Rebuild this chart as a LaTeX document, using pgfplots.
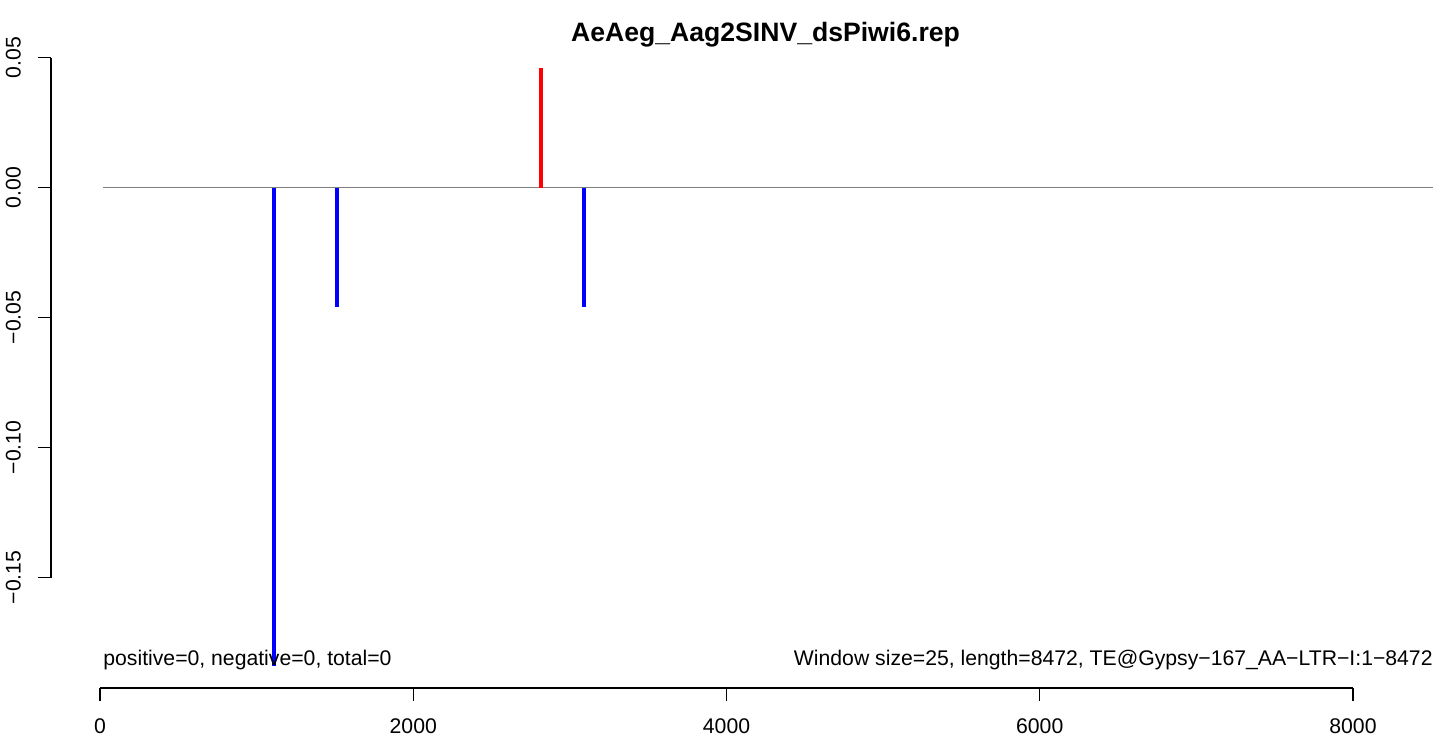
\documentclass[border=0pt]{standalone}
\usepackage{pgfplots}
\pgfplotsset{compat=1.18}
\usepackage{fontspec}
\setmainfont{Liberation Sans}
\begin{document}
\begin{tikzpicture}
\path[use as bounding box] (0,0) rectangle (716.5pt,370pt);
\begin{axis}[
  at={(25.5pt,26pt)}, anchor=south west, scale only axis,
  width=714.5pt, height=322pt,
  xmin=-313, xmax=8811, ymin=-0.1925, ymax=0.0552,
  axis x line*=bottom, axis y line*=left,
  axis line style={draw=none},
  xtick={0,2000,4000,6000,8000},
  xticklabels={0,2000,4000,6000,8000},
  ytick={-0.15,-0.1,-0.05,0,0.05},
  yticklabels={−0.15,−0.10,−0.05,0.00,0.05},
  tick align=outside, major tick length=6.5pt,
  tick style={black, line width=0.66pt},
  ticklabel style={font=\fontsize{10.6}{12}\selectfont},
  xticklabel style={yshift=-5.5pt},
  yticklabel style={xshift=-5pt, rotate=90, anchor=south},
  clip=false,
]
\node[anchor=base, inner sep=0pt, font=\bfseries\fontsize{13.3}{15}\selectfont] at (rel axis cs:0.5,1.0036) {AeAeg\_Aag2SINV\_dsPiwi6.rep};
\draw[line width=0.66pt] (axis cs:0,-0.1925) -- (axis cs:8000,-0.1925);
\draw[line width=0.66pt] (axis cs:-313,-0.15) -- (axis cs:-313,0.05);
\draw[gray, line width=0.66pt] (axis cs:22,0) -- (axis cs:8811,0);
\addplot[ycomb, blue, line width=2pt, no marks] coordinates {(1111,-0.184) (1513,-0.046) (3090,-0.046)};
\addplot[ycomb, red, line width=2pt, no marks] coordinates {(2816,0.046)};
\node[anchor=base west, inner sep=0pt, font=\fontsize{10.6}{12}\selectfont] at (axis cs:19,-0.1837) {positive=0, negative=0, total=0};
\node[anchor=base east, inner sep=0pt, font=\fontsize{10.6}{12}\selectfont] at (axis cs:8511,-0.1837) {Window size=25, length=8472, TE@Gypsy−167\_AA−LTR−I:1−8472};
\end{axis}
\end{tikzpicture}
\end{document}
